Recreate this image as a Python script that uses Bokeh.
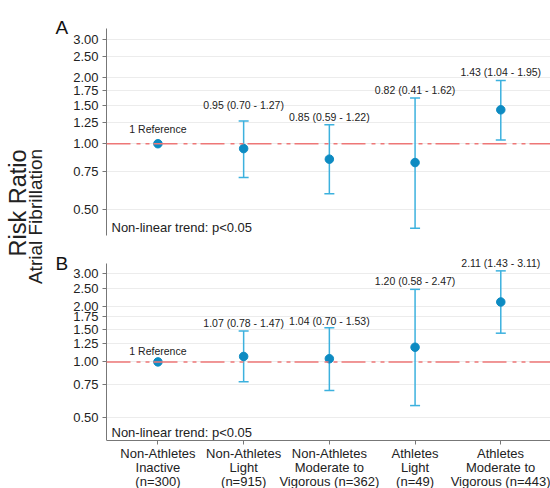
import math
from bokeh.plotting import figure
from bokeh.layouts import row, column
from bokeh.models import (Range1d, FixedTicker, PrintfTickFormatter, Span, Whisker,
                          TeeHead, ColumnDataSource, Label)
from bokeh.embed import file_html
from bokeh.resources import INLINE

# ---------------- data ----------------
categories = ["Non-Athletes\nInactive\n(n=300)",
              "Non-Athletes\nLight\n(n=915)",
              "Non-Athletes\nModerate to\nVigorous (n=362)",
              "Athletes\nLight\n(n=49)",
              "Athletes\nModerate to\nVigorous (n=443)"]
x_pos = [0, 1, 2, 3, 4]

rr_a = [1.00, 0.95, 0.85, 0.82, 1.43]
lo_a = [None, 0.70, 0.59, 0.41, 1.04]
hi_a = [None, 1.27, 1.22, 1.62, 1.95]

rr_b = [1.00, 1.07, 1.04, 1.20, 2.11]
lo_b = [None, 0.78, 0.70, 0.58, 1.43]
hi_b = [None, 1.47, 1.53, 2.47, 3.11]

y_ticks = [0.50, 0.75, 1.00, 1.25, 1.50, 1.75, 2.00, 2.50, 3.00]
trend_text = "Non-linear trend: p<0.05"
ref_text = "1 Reference"

# ---------------- style ----------------
FONT = "Liberation Sans"
PT_COLOR = "#0d8bc2"
BAR_COLOR = "#3cb1de"
REF_COLOR = "#ee7777"
AXIS_COLOR = "#777777"
TXT = "#222222"
X_RANGE = Range1d(-0.6, 4.58)


def panel(rr, lo, hi, height, top, bottom, y_range, axis_bounds, show_x,
          label_offsets, ref_offset):
    p = figure(width=480, height=height, x_range=X_RANGE,
               y_range=Range1d(*y_range), y_axis_type="log",
               output_backend="svg", toolbar_location=None,
               min_border_left=35, min_border_right=0,
               min_border_top=top, min_border_bottom=bottom)
    p.outline_line_color = None
    p.background_fill_color = "white"
    p.border_fill_color = "white"
    p.xgrid.grid_line_color = None
    p.ygrid.grid_line_color = "#ececec"
    p.ygrid.grid_line_width = 1

    yax = p.yaxis[0]
    yax.ticker = FixedTicker(ticks=y_ticks)
    yax.bounds = axis_bounds
    yax.formatter = PrintfTickFormatter(format="%.2f")
    yax.axis_line_color = AXIS_COLOR
    yax.major_tick_line_color = AXIS_COLOR
    yax.major_tick_out = 4
    yax.major_tick_in = 0
    yax.minor_tick_line_color = None
    yax.major_label_standoff = 4
    yax.major_label_text_font = FONT
    yax.major_label_text_font_size = "13px"
    yax.major_label_text_color = TXT

    xax = p.xaxis[0]
    if show_x:
        xax.fixed_location = axis_bounds[0]
        xax.ticker = FixedTicker(ticks=x_pos)
        xax.major_label_overrides = {x: c for x, c in zip(x_pos, categories)}
        xax.axis_line_color = AXIS_COLOR
        xax.major_tick_line_color = AXIS_COLOR
        xax.major_tick_out = 4
        xax.major_tick_in = 0
        xax.minor_tick_line_color = None
        xax.major_label_standoff = 1
        xax.major_label_text_font = FONT
        xax.major_label_text_font_size = "13px"
        xax.major_label_text_color = TXT
        xax.major_label_text_line_height = 0.95
    else:
        xax.visible = False

    p.add_layout(Span(location=1.0, dimension="width", line_color=REF_COLOR,
                      line_width=1.5, line_dash="24 6 4 5 4 4"))

    idx = [i for i in range(len(rr)) if lo[i] is not None]
    src = ColumnDataSource(dict(x=[x_pos[i] for i in idx],
                                lower=[lo[i] for i in idx],
                                upper=[hi[i] for i in idx]))
    wk = Whisker(source=src, base="x", lower="lower", upper="upper",
                 dimension="height", line_color=BAR_COLOR, line_width=1.5,
                 upper_head=TeeHead(size=10, line_color=BAR_COLOR, line_width=1.5),
                 lower_head=TeeHead(size=10, line_color=BAR_COLOR, line_width=1.5))
    p.add_layout(wk)

    p.scatter(x_pos, rr, size=8.5, color=PT_COLOR, line_color=PT_COLOR)

    for i in range(len(rr)):
        if lo[i] is None:
            p.add_layout(Label(x=x_pos[i], y=rr[i], text=ref_text, y_offset=ref_offset,
                               text_align="center", text_baseline="middle",
                               text_font=FONT, text_font_size="10.5px", text_color=TXT))
        else:
            t = f"{rr[i]:.2f} ({lo[i]:.2f} - {hi[i]:.2f})"
            p.add_layout(Label(x=x_pos[i], y=hi[i], text=t, y_offset=label_offsets[i],
                               text_align="center", text_baseline="middle",
                               text_font=FONT, text_font_size="10.5px", text_color=TXT))

    p.add_layout(Label(x=X_RANGE.start, y=axis_bounds[0], text=trend_text, x_offset=5,
                       y_offset=1, text_align="left", text_baseline="bottom",
                       text_font=FONT, text_font_size="13px", text_color=TXT))
    return p


pa = panel(rr_a, lo_a, hi_a, 248, 28, 13, (0.380, 3.37), (0.380, 3.37), False,
           [0, 16, 8, 8, 8.5], 15)
pb = panel(rr_b, lo_b, hi_b, 240, 0, 0, (0.2063, 4.11), (0.375, 3.41), True,
           [0, 8, 7, 8, 7.5], 10.5)

# y-axis title and panel letters
pt = figure(width=70, height=488, x_range=Range1d(0, 70), y_range=Range1d(0, 488),
            output_backend="svg", toolbar_location=None, x_axis_type=None, y_axis_type=None,
            min_border=0)
pt.outline_line_color = None
pt.xgrid.grid_line_color = None
pt.ygrid.grid_line_color = None
pt.add_layout(Label(x=17, y=285.5, text="Risk Ratio", angle=math.pi / 2,
                    text_align="center", text_baseline="alphabetic",
                    text_font=FONT, text_font_size="23.5px", text_color=TXT))
pt.add_layout(Label(x=35, y=272, text="Atrial Fibrillation", angle=math.pi / 2,
                    text_align="center", text_baseline="alphabetic",
                    text_font=FONT, text_font_size="19px", text_color=TXT))
for letter, yb in (("A", 461), ("B", 225)):
    pt.add_layout(Label(x=55, y=yb, text=letter, text_align="left",
                        text_baseline="alphabetic", text_font=FONT,
                        text_font_size="19px", text_color="#111111"))

layout = row(pt, column(pa, pb, spacing=0), spacing=0)

open("out.html", "w").write(file_html(layout, INLINE))
